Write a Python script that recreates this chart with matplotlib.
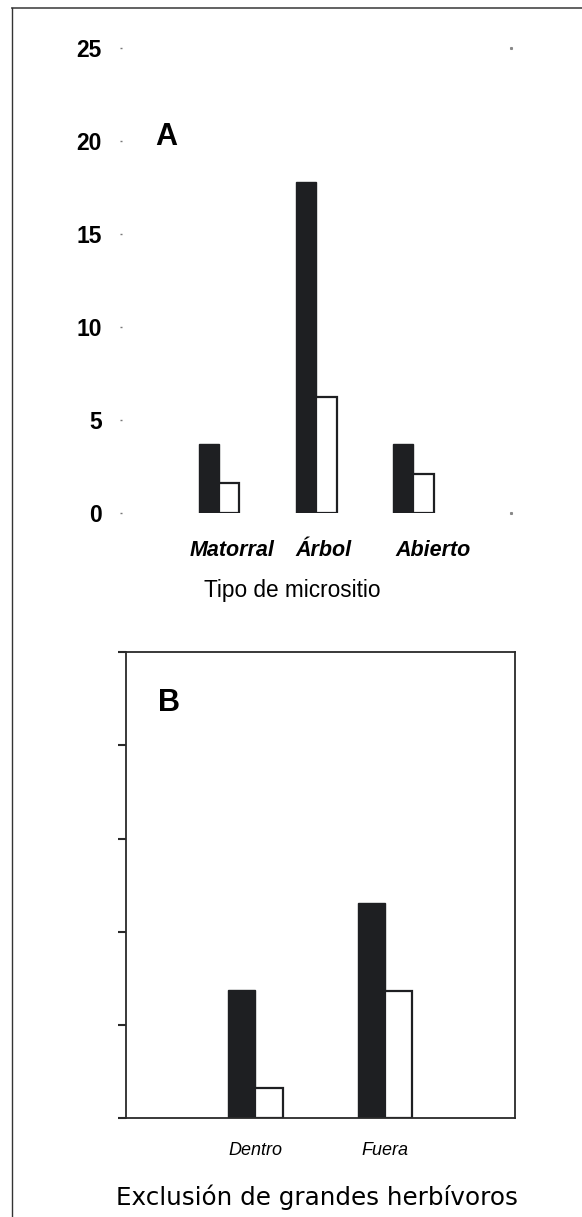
import matplotlib
matplotlib.use("Agg")
import matplotlib.pyplot as plt
from matplotlib.lines import Line2D

# --- data ---
micro_cats = ["Matorral", "Árbol", "Abierto"]
micro_dark = [3.7, 17.8, 3.7]
micro_light = [1.6, 6.2, 2.1]

excl_cats = ["Dentro", "Fuera"]
excl_dark = [6.9, 11.55]
excl_light = [1.65, 6.85]

yticks = [0, 5, 10, 15, 20, 25]

DARK = "#1e1f22"
W = 0.21  # bar width in category units
ARIAL = "Liberation Sans"

fig = plt.figure(figsize=(5.82, 12.17), dpi=100)
FW, FH = 582, 1217


def px_axes(left, top, right, bottom):
    return fig.add_axes([left / FW, 1 - bottom / FH, (right - left) / FW, (bottom - top) / FH])


def paired_bars(ax, dark, light):
    pos = list(range(1, len(dark) + 1))
    ax.bar([p - W / 2 for p in pos], dark, width=W, color=DARK, edgecolor=DARK, lw=1)
    ax.bar([p + W / 2 for p in pos], light, width=W, color="white", edgecolor=DARK, lw=1.6)
    return pos


# ---------------- panel A ----------------
axA = px_axes(121.7, 48, 510.7, 512.7)
pos = paired_bars(axA, micro_dark, micro_light)
axA.set_xlim(0, len(micro_cats) + 1)
axA.set_ylim(0, 25)
for s in axA.spines.values():
    s.set_visible(False)
axA.set_yticks(yticks)
axA.set_yticklabels([str(v) for v in yticks], fontfamily=ARIAL, fontweight="bold", fontsize=16.5)
axA.tick_params(axis="y", length=1.5, width=1, color="#777", pad=13)
# label placement as in the reference (shifted right of the pair centre)
label_shift = [0.13, 0.08, 0.2]
axA.set_xticks([p + d for p, d in zip(pos, label_shift)])
axA.set_xticklabels(micro_cats, fontfamily=ARIAL, fontweight="bold", fontstyle="italic", fontsize=15.5)
axA.tick_params(axis="x", length=0, pad=20)
# corner dots on the right
x1 = axA.get_xlim()[1]
axA.plot([x1, x1], [yticks[0], yticks[-1]], ls="none", marker="s", ms=1.2, color="#888", clip_on=False)
fig.text(155 / FW, 1 - 137 / FH, "A", fontfamily=ARIAL, fontweight="bold", fontsize=22, va="center")
fig.text(292 / FW, 1 - 590 / FH, "Tipo de micrositio", fontfamily=ARIAL, fontsize=16.3,
         ha="center", va="center")

# ---------------- panel B ----------------
axB = px_axes(125.7, 652.3, 515, 1118.3)
pos = paired_bars(axB, excl_dark, excl_light)
axB.set_xlim(0, len(excl_cats) + 1)
axB.set_ylim(0, 25)
for s in axB.spines.values():
    s.set_linewidth(1.3)
    s.set_color("#2a2a2a")
axB.set_yticks(yticks)
axB.set_yticklabels([])
axB.tick_params(axis="y", direction="out", length=6, width=1.5, color="#2a2a2a")
axB.set_xticks(pos)
axB.set_xticklabels(excl_cats, fontfamily=ARIAL, fontstyle="italic", fontsize=13)
axB.tick_params(axis="x", length=0, pad=17)
fig.text(158 / FW, 1 - 703 / FH, "B", fontfamily=ARIAL, fontweight="bold", fontsize=22, va="center")
fig.text(317 / FW, 1 - 1197 / FH, "Exclusión de grandes herbívoros", fontfamily="DejaVu Sans",
         fontsize=17.7, ha="center", va="center")

# cropped page frame (top and left edges only)
fig.add_artist(Line2D([11.5 / FW, 1], [1 - 7.7 / FH] * 2, color="#555", lw=1.3))
fig.add_artist(Line2D([11.5 / FW] * 2, [0, 1 - 7.7 / FH], color="#333", lw=1.0))

fig.savefig("out.png", dpi=100)
